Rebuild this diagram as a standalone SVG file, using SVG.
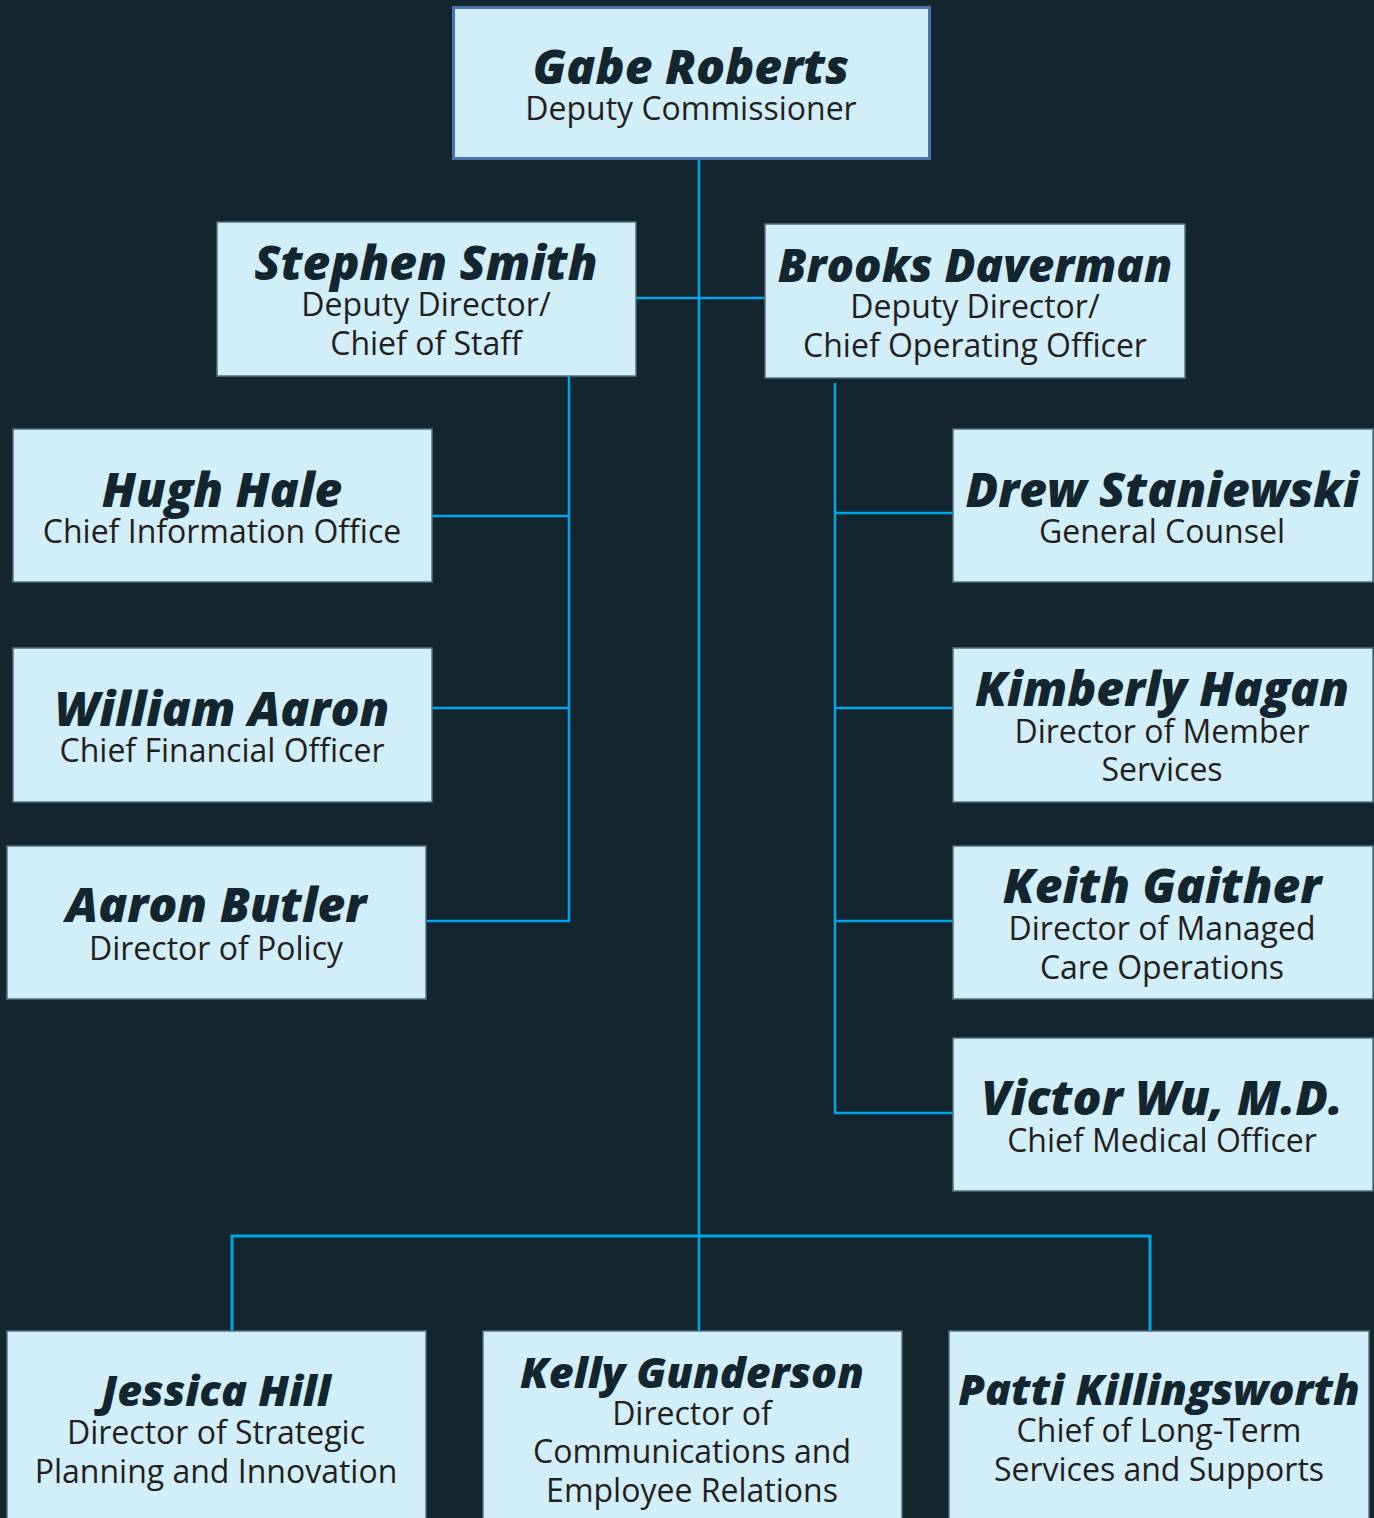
<svg xmlns="http://www.w3.org/2000/svg" width="1374" height="1518" viewBox="0 0 1374 1518">
<style>
.bg{fill:#13252f}
.box{fill:#d1eef9;stroke:#56707f;stroke-width:1.5}
.top{fill:#d1eef9;stroke:#4a72b0;stroke-width:3}
.nm{font-family:"Open Sans","Noto Sans",sans-serif;font-weight:800;font-style:italic;font-size:48px;fill:#13252f;text-anchor:middle}
.nb{font-size:43px}
.sb{font-family:"Open Sans","Noto Sans",sans-serif;font-weight:400;font-size:32px;fill:#231f20;text-anchor:middle}
.ln{stroke:#00a6e6;stroke-width:2.5;fill:none}
</style>
<rect class="bg" x="0" y="0" width="1374" height="1518"/>
<g id="connectors">
<line class="ln" x1="699" y1="159" x2="699" y2="1331"/>
<line class="ln" x1="636" y1="298" x2="765" y2="298"/>
<polyline class="ln" points="569,376 569,921 426,921"/>
<line class="ln" x1="432" y1="516" x2="569" y2="516"/>
<line class="ln" x1="432" y1="708" x2="569" y2="708"/>
<polyline class="ln" points="835,383 835,1113 953,1113"/>
<line class="ln" x1="835" y1="513" x2="953" y2="513"/>
<line class="ln" x1="835" y1="708" x2="953" y2="708"/>
<line class="ln" x1="835" y1="921" x2="953" y2="921"/>
<polyline class="ln" points="232,1331 232,1236 1150,1236 1150,1331" style="stroke-width:3"/>
</g>
<g id="gabe"><rect class="top" x="453.5" y="7.5" width="476" height="151"/><text class="nm" x="691" y="84">Gabe Roberts</text><text class="sb" x="691" y="120">Deputy Commissioner</text></g>
<g id="stephen"><rect class="box" x="217" y="222" width="419" height="154"/><text class="nm" x="426" y="280">Stephen Smith</text><text class="sb" x="426" y="316">Deputy Director/</text><text class="sb" x="426" y="355">Chief of Staff</text></g>
<g id="brooks"><rect class="box" x="765" y="224" width="420" height="154"/><text class="nm" x="975" y="282" style="font-size:45.5px">Brooks Daverman</text><text class="sb" x="975" y="318">Deputy Director/</text><text class="sb" x="975" y="357">Chief Operating Officer</text></g>
<g id="hugh"><rect class="box" x="13" y="429" width="419" height="153"/><text class="nm" x="222" y="507">Hugh Hale</text><text class="sb" x="222" y="543">Chief Information Office</text></g>
<g id="william"><rect class="box" x="13" y="648" width="419" height="154"/><text class="nm" x="222" y="726">William Aaron</text><text class="sb" x="222" y="762">Chief Financial Officer</text></g>
<g id="butler"><rect class="box" x="7" y="846" width="419" height="153"/><text class="nm" x="216" y="922">Aaron Butler</text><text class="sb" x="216" y="960">Director of Policy</text></g>
<g id="drew"><rect class="box" x="953" y="429" width="420" height="153"/><text class="nm" x="1162" y="507">Drew Staniewski</text><text class="sb" x="1162" y="543">General Counsel</text></g>
<g id="kimberly"><rect class="box" x="953" y="648" width="420" height="154"/><text class="nm" x="1162" y="706">Kimberly Hagan</text><text class="sb" x="1162" y="743">Director of Member</text><text class="sb" x="1162" y="781">Services</text></g>
<g id="keith"><rect class="box" x="953" y="846" width="420" height="153"/><text class="nm" x="1162" y="903">Keith Gaither</text><text class="sb" x="1162" y="940">Director of Managed</text><text class="sb" x="1162" y="979">Care Operations</text></g>
<g id="victor"><rect class="box" x="953" y="1038" width="420" height="153"/><text class="nm" x="1162" y="1115">Victor Wu, M.D.</text><text class="sb" x="1162" y="1152">Chief Medical Officer</text></g>
<g id="jessica"><rect class="box" x="7" y="1331" width="419" height="200"/><text class="nm nb" x="216" y="1406">Jessica Hill</text><text class="sb" x="216" y="1444">Director of Strategic</text><text class="sb" x="216" y="1483">Planning and Innovation</text></g>
<g id="kelly"><rect class="box" x="483" y="1331" width="419" height="200"/><text class="nm nb" x="692" y="1388">Kelly Gunderson</text><text class="sb" x="692" y="1425">Director of</text><text class="sb" x="692" y="1463">Communications and</text><text class="sb" x="692" y="1502">Employee Relations</text></g>
<g id="patti"><rect class="box" x="949" y="1331" width="420" height="200"/><text class="nm nb" x="1159" y="1405">Patti Killingsworth</text><text class="sb" x="1159" y="1442">Chief of Long-Term</text><text class="sb" x="1159" y="1481">Services and Supports</text></g>
</svg>
